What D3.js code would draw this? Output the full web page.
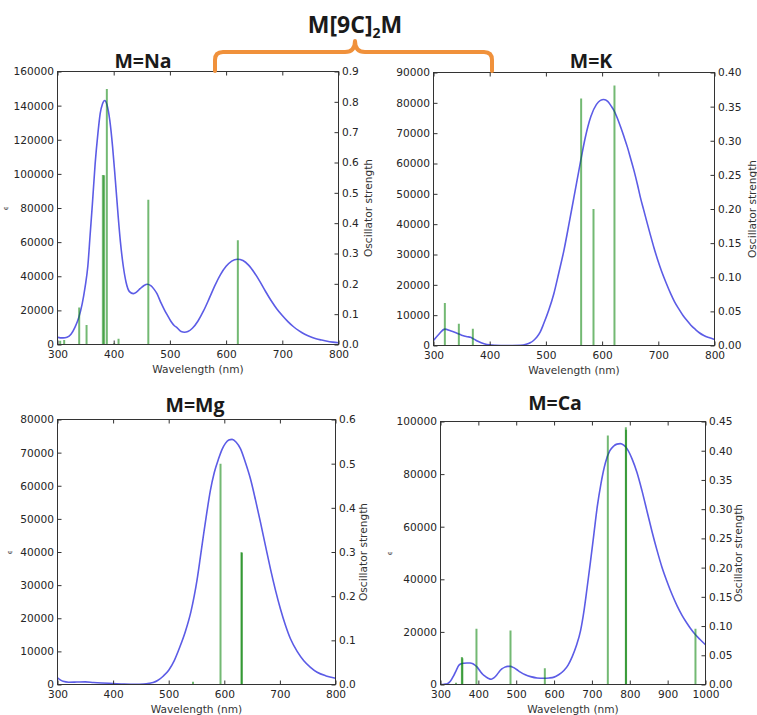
<!DOCTYPE html>
<html>
<head>
<meta charset="utf-8">
<script src="https://cdn.jsdelivr.net/npm/d3@7"></script>
<style>
  html, body { margin: 0; padding: 0; background: #fff; }
  svg { display: block; }
  .tick text { font-family: "DejaVu Sans", sans-serif; font-size: 10.6px; fill: #262626; }
  .tick line { stroke: #333; }
  .axis-label { font-family: "DejaVu Sans", sans-serif; font-size: 10.6px; fill: #333; }
  .panel-title { font-family: "Open Sans", sans-serif; font-weight: 700; font-size: 19.5px; fill: #1a1a1a; }
  .main-title { font-family: "Open Sans", sans-serif; font-weight: 700; font-size: 23px; fill: #1a1a1a; }
</style>
</head>
<body>
<svg id="chart" width="757" height="715"></svg>
<script>
// ---------- M = Na ----------
const naNm  = [300,305,310,317,324,331,338,344,349,354,358,362,367,372,376,380,384,388,393,398,403,408,412,417,422,428,435,441,447,454,460,466,472,477,484,490,495,502,508,513,520,526,532,540,550,560,570,580,590,600,610,620,630,640,650,660,670,680,690,700,710,720,730,740,750,760,770,780,790,800];
const naEps = [4200,3900,3900,4300,6000,10000,16000,24000,33500,46000,64000,82000,106000,124000,135500,141000,143000,140500,131500,116000,96000,75000,60000,46000,36500,31000,29800,30800,32700,34600,35300,34500,32300,29800,24500,20500,17500,13500,11000,9800,7600,7200,7600,9500,13800,19800,27000,34500,41000,45800,48900,50000,49200,46500,42200,37000,31200,25800,21000,17000,13400,10400,8000,6000,4500,3400,2600,1900,1400,1000];
const naStickNm = [304.8, 311.9, 338.6, 351.7, 380.7, 383.0, 387.8, 400.9, 408.6, 461.6, 620.9];
const naStickF  = [0.012, 0.015, 0.122, 0.064, 0.559, 0.558, 0.842, 0.004, 0.019, 0.477, 0.344];
const naXTicks     = [300, 400, 500, 600, 700, 800];
const naLeftTicks  = [0, 20000, 40000, 60000, 80000, 100000, 120000, 140000, 160000];
const naRightTicks = [0, 0.1, 0.2, 0.3, 0.4, 0.5, 0.6, 0.7, 0.8, 0.9];

// ---------- M = K ----------
const kNm  = [300,310,320,330,340,350,360,366,372,380,390,400,410,420,440,455,465,472,478,484,490,496,505,514,523,532,541,550,556,562,570,580,590,597,603,610,616,621,627,633,639,645,651,657,663,668,674,680,686,692,699,706,714,722,729,737,744,751,758,766,773,781,790,800];
const kEps = [1650,3800,5400,4900,4200,3400,2900,2700,2100,1300,600,200,50,0,0,50,400,900,1650,2800,4500,7150,11600,17000,24000,31300,40000,49000,55000,61000,68500,75500,79500,80800,81100,80500,79000,77500,75000,72000,68800,65400,61500,57500,53000,48900,44700,40500,36400,32400,28200,24400,20600,17100,14400,11900,9900,8250,6700,5300,4200,3300,2600,2000];
const kStickNm = [320.2, 345.1, 370.0, 562.7, 584.7, 622.0];
const kStickF  = [0.0624, 0.0317, 0.0244, 0.362, 0.200, 0.381];
const kXTicks     = [300, 400, 500, 600, 700, 800];
const kLeftTicks  = [0, 10000, 20000, 30000, 40000, 50000, 60000, 70000, 80000, 90000];
const kRightTicks = [0, 0.05, 0.10, 0.15, 0.20, 0.25, 0.30, 0.35, 0.40];

// ---------- M = Mg ----------
const mgNm  = [300,305,310,320,335,350,365,380,400,420,440,455,465,472,480,490,500,510,520,530,540,546,551,557,563,569,575,582,590,596,602,608,614,621,629,638,647,656,665,674,683,692,701,710,719,731,743,755,767,783,800];
const mgEps = [2000,1400,950,700,750,800,600,450,300,150,80,150,350,600,1200,2500,4300,7200,11300,16000,22000,26800,31600,38500,45600,52400,58600,64000,68300,71000,72800,73800,74000,73200,71200,67000,62100,55800,49000,41900,34900,28500,22800,17900,13800,10000,7200,5200,3700,2600,1900];
const mgStickNm = [543.7, 593.2, 631.0, 631.5];
const mgStickF  = [0.006, 0.500, 0.300, 0.298];
const mgXTicks     = [300, 400, 500, 600, 700, 800];
const mgLeftTicks  = [0, 10000, 20000, 30000, 40000, 50000, 60000, 70000, 80000];
const mgRightTicks = [0, 0.1, 0.2, 0.3, 0.4, 0.5, 0.6];

// ---------- M = Ca ----------
const caNm  = [300,310,318,326,335,342,348,355,362,370,378,384,390,397,405,412,419,427,434,441,448,454,462,470,477,485,492,500,511,524,538,555,573,587,600,612,626,637,648,659,670,679,687,696,705,714,724,736,747,757,766,775,784,793,806,819,832,846,859,872,885,899,912,925,938,951,960,969,985,1000];
const caEps = [0,100,300,1200,3400,5500,7200,7900,8100,8200,8150,8000,7500,6600,5000,3800,3000,2300,2000,2500,3500,4700,5900,6600,6900,6900,6500,5800,4700,3700,3000,2500,2400,2500,2800,3700,5300,7400,10600,14800,20500,28000,36500,46500,57000,67500,76500,84500,88800,90600,91400,91600,91000,89600,85800,80600,73800,65600,58000,51000,44600,38900,34100,29900,26300,23300,21400,19700,17200,15100];
const caStickNm = [341.0, 356.5, 357.8, 395.0, 484.9, 575.6, 742.0, 789.6, 790.2, 973.5];
const caStickF  = [0.003, 0.047, 0.045, 0.0953, 0.0924, 0.028, 0.426, 0.440, 0.436, 0.0953];
const caXTicks     = [300, 400, 500, 600, 700, 800, 900, 1000];
const caLeftTicks  = [0, 20000, 40000, 60000, 80000, 100000];
const caRightTicks = [0, 0.05, 0.10, 0.15, 0.20, 0.25, 0.30, 0.35, 0.40, 0.45];

// ---------- layout of the four panels ----------
const panels = [
  { title: "M=Na", nm: naNm, eps: naEps, sNm: naStickNm, sF: naStickF,
    xTicks: naXTicks, leftTicks: naLeftTicks, rightTicks: naRightTicks,
    xMax: 800, leftMax: 160000, rightMax: 0.9, rightFmt: d3.format(".1f"),
    left: 57.5, right: 338.5, top: 71.5, bottom: 344.5,
    titleX: 143, titleY: 68, epsX: 6, rightLabelX: 368, showEps: true },
  { title: "M=K", nm: kNm, eps: kEps, sNm: kStickNm, sF: kStickF,
    xTicks: kXTicks, leftTicks: kLeftTicks, rightTicks: kRightTicks,
    xMax: 800, leftMax: 90000, rightMax: 0.40, rightFmt: d3.format(".2f"),
    left: 433.5, right: 714.5, top: 72.5, bottom: 345.5,
    titleX: 591, titleY: 68, epsX: 0, rightLabelX: 752, showEps: false },
  { title: "M=Mg", nm: mgNm, eps: mgEps, sNm: mgStickNm, sF: mgStickF,
    xTicks: mgXTicks, leftTicks: mgLeftTicks, rightTicks: mgRightTicks,
    xMax: 800, leftMax: 80000, rightMax: 0.6, rightFmt: d3.format(".1f"),
    left: 57.5, right: 335.5, top: 419.5, bottom: 684.5,
    titleX: 195, titleY: 412, epsX: 10, rightLabelX: 363, showEps: true },
  { title: "M=Ca", nm: caNm, eps: caEps, sNm: caStickNm, sF: caStickF,
    xTicks: caXTicks, leftTicks: caLeftTicks, rightTicks: caRightTicks,
    xMax: 1000, leftMax: 100000, rightMax: 0.45, rightFmt: d3.format(".2f"),
    left: 440.5, right: 705.5, top: 421.5, bottom: 684.5,
    titleX: 555, titleY: 410, epsX: 390, rightLabelX: 738, showEps: true }
];

const svg = d3.select("#chart");
const intFmt = d3.format("d");

panels.forEach((p, i) => {
  const g = svg.append("g");
  const x  = d3.scaleLinear().domain([300, p.xMax]).range([p.left, p.right]);
  const yL = d3.scaleLinear().domain([0, p.leftMax]).range([p.bottom, p.top]);
  const yR = d3.scaleLinear().domain([0, p.rightMax]).range([p.bottom, p.top]);

  const clipId = "clip" + i;
  svg.append("clipPath").attr("id", clipId).append("rect")
    .attr("x", p.left).attr("y", p.top)
    .attr("width", p.right - p.left).attr("height", p.bottom - p.top);

  const plot = g.append("g").attr("clip-path", `url(#${clipId})`);

  // absorption spectrum (left axis)
  const line = d3.line()
    .x(d => x(d[0]))
    .y(d => yL(d[1]))
    .curve(d3.curveMonotoneX);
  plot.append("path")
    .datum(d3.zip(p.nm, p.eps))
    .attr("d", line)
    .attr("fill", "none")
    .attr("stroke", "#5c5ce6")
    .attr("stroke-width", 1.6);

  // oscillator strength sticks (right axis)
  plot.selectAll("line.stick")
    .data(d3.zip(p.sNm, p.sF))
    .join("line")
    .attr("class", "stick")
    .attr("x1", d => x(d[0])).attr("x2", d => x(d[0]))
    .attr("y1", yR(0)).attr("y2", d => yR(d[1]))
    .attr("stroke", "#008000")
    .attr("stroke-opacity", 0.55)
    .attr("stroke-width", 2);

  // axes with inward ticks
  const axBottom = g.append("g").attr("transform", `translate(0,${p.bottom})`)
    .call(d3.axisBottom(x).tickValues(p.xTicks).tickFormat(intFmt)
      .tickSizeInner(-4).tickSizeOuter(0).tickPadding(6));
  const axTop = g.append("g").attr("transform", `translate(0,${p.top})`)
    .call(d3.axisTop(x).tickValues(p.xTicks).tickFormat("")
      .tickSizeInner(-4).tickSizeOuter(0));
  const axLeft = g.append("g").attr("transform", `translate(${p.left},0)`)
    .call(d3.axisLeft(yL).tickValues(p.leftTicks).tickFormat(intFmt)
      .tickSizeInner(-4).tickSizeOuter(0).tickPadding(3.5));
  const axRight = g.append("g").attr("transform", `translate(${p.right},0)`)
    .call(d3.axisRight(yR).tickValues(p.rightTicks).tickFormat(p.rightFmt)
      .tickSizeInner(-4).tickSizeOuter(0).tickPadding(3.5));
  [axBottom, axTop, axLeft, axRight].forEach(a => {
    a.select(".domain").remove();
    a.selectAll("text").attr("fill", "#262626").style("font-family", "DejaVu Sans").style("font-size", "10.6px");
  });

  // frame
  g.append("rect")
    .attr("x", p.left).attr("y", p.top)
    .attr("width", p.right - p.left).attr("height", p.bottom - p.top)
    .attr("fill", "none").attr("stroke", "#333").attr("stroke-width", 1);

  // axis labels
  const cx = (p.left + p.right) / 2;
  const cy = (p.top + p.bottom) / 2;
  g.append("text").attr("class", "axis-label")
    .attr("x", cx).attr("y", p.bottom + 28.5)
    .attr("text-anchor", "middle")
    .text("Wavelength (nm)");
  g.append("text").attr("class", "axis-label")
    .attr("transform", `translate(${p.rightLabelX},${cy}) rotate(-90)`)
    .attr("dy", "0.35em")
    .attr("text-anchor", "middle")
    .text("Oscillator strength");
  if (p.showEps) {
    g.append("text").attr("class", "axis-label")
      .attr("transform", `translate(${p.epsX},${cy}) rotate(-90)`)
      .attr("dy", "0.35em")
      .attr("text-anchor", "middle")
      .style("font-size", "7px")
      .text("ϵ");
  }

  // panel title
  g.append("text").attr("class", "panel-title")
    .attr("x", p.titleX).attr("y", p.titleY)
    .attr("text-anchor", "middle")
    .text(p.title);
});

// bracket grouping the two top panels
svg.append("path")
  .attr("d", "M215,71 V60 Q215,52 223,52 H345 Q355,52 355,41 Q355,52 365,52 H484 Q492,52 492,60 V71")
  .attr("fill", "none")
  .attr("stroke", "#f0913b")
  .attr("stroke-width", 4)
  .attr("stroke-linecap", "round")
  .attr("stroke-linejoin", "round");

// overall title
const mt = svg.append("text").attr("class", "main-title")
  .attr("x", 355).attr("y", 33).attr("text-anchor", "middle");
mt.append("tspan").text("M[9C]");
mt.append("tspan").attr("dy", 5).style("font-size", "14px").text("2");
mt.append("tspan").attr("dy", -5).text("M");
</script>
</body>
</html>
